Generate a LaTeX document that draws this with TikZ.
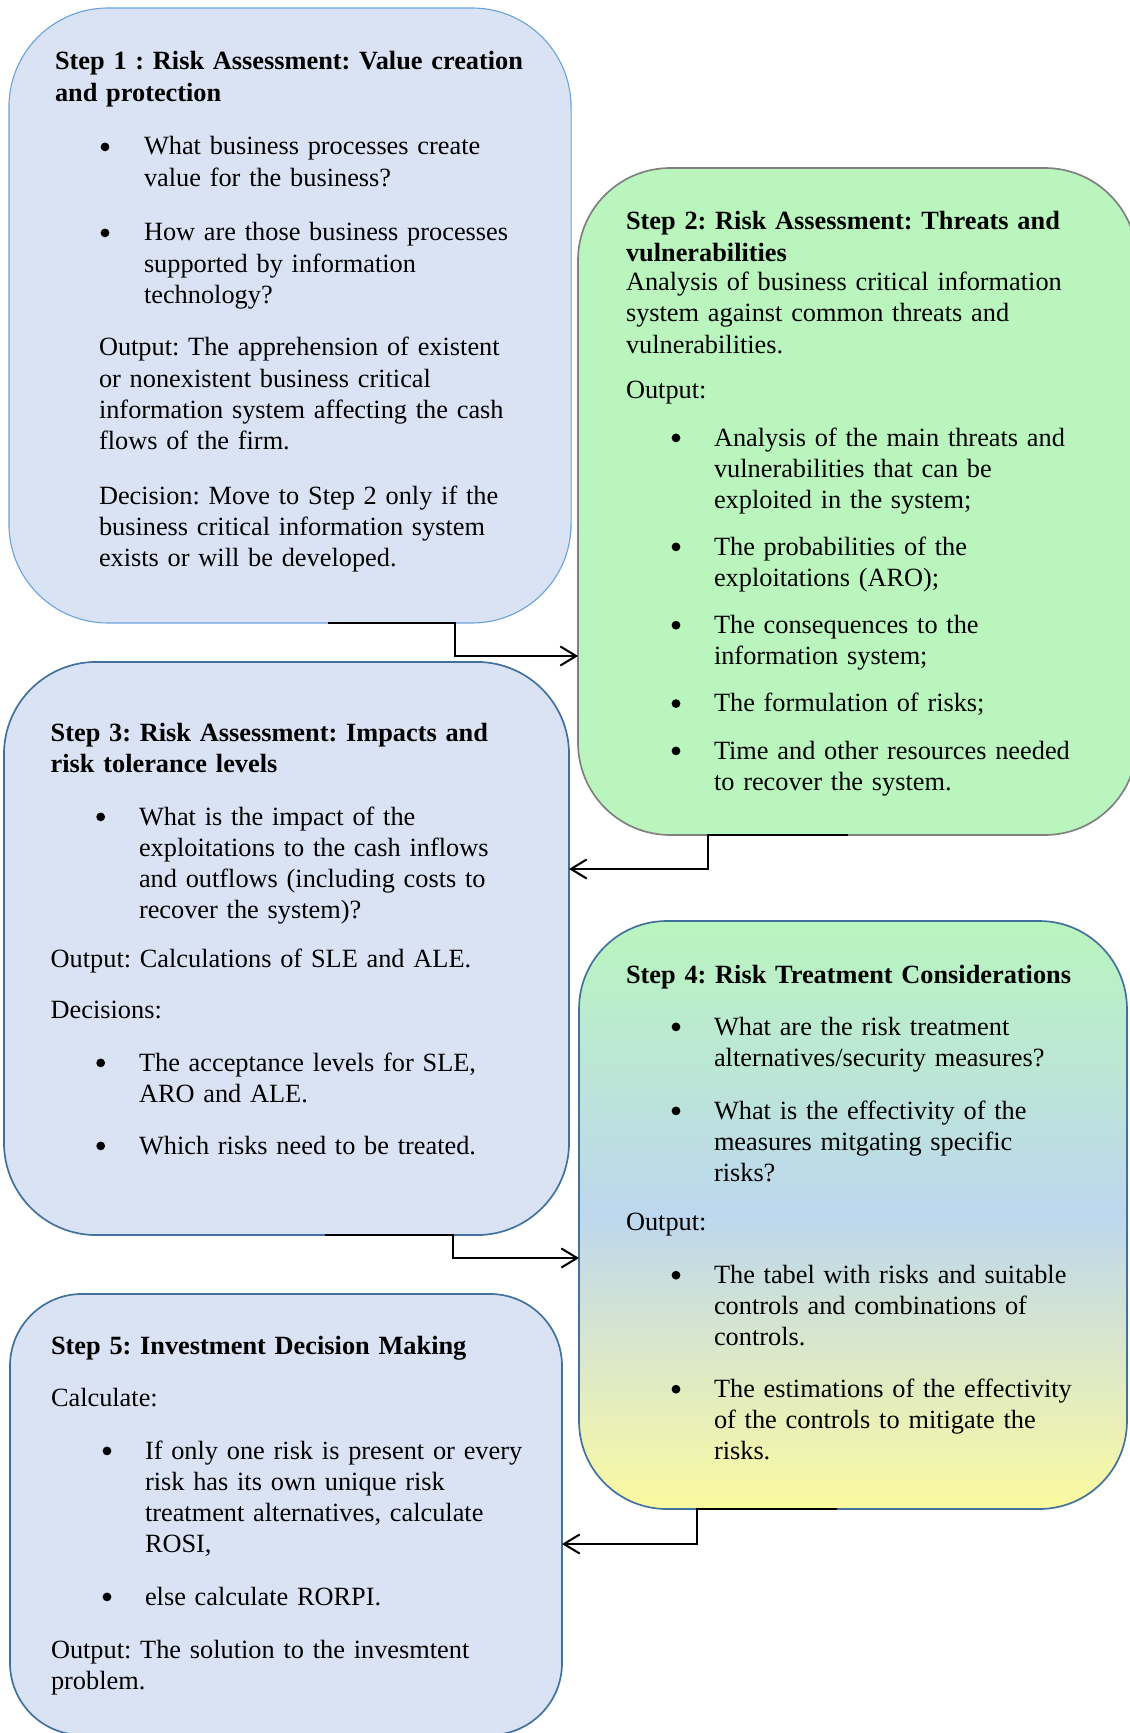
\documentclass[tikz,border=0pt]{standalone}
\usepackage{fontspec}
\setmainfont{Liberation Serif}
\usetikzlibrary{arrows.meta}
\definecolor{boxblue}{RGB}{218,227,243}
\definecolor{lineblue}{RGB}{108,163,220}
\definecolor{darkline}{RGB}{65,113,156}
\definecolor{boxgreen}{RGB}{186,245,190}
\definecolor{greyline}{RGB}{128,128,128}
\definecolor{midblue}{RGB}{189,215,238}
\definecolor{lightyellow}{RGB}{251,250,160}
\frenchspacing
\begin{document}
\begin{tikzpicture}[x=0.4444pt,y=-0.4444pt,
  stepbox/.style={rectangle, inner sep=0pt, outer sep=0pt},
  txt/.style={anchor=base west, inner sep=0pt, outer sep=0pt, text width=225pt, align=left, font=\fontsize{11.7pt}{13.85pt}\selectfont},
  hdr/.style={txt, font=\fontsize{11.7pt}{13.85pt}\selectfont\bfseries},
  bul/.style={circle, fill=black, inner sep=0pt, outer sep=0pt, minimum size=3.9pt, yshift=3.6pt},
  conn/.style={draw=black, line width=0.9pt, -{Straight Barb[length=7pt,width=8.5pt]}}
]
\useasboundingbox (0,0) rectangle (1130,1733);

% boxes
\node[stepbox, fill=boxblue, draw=lineblue, line width=0.5pt, rounded corners=44pt,
      minimum width=249.8pt, minimum height=273.3pt] (b1) at (290,315.5) {};
\node[stepbox, fill=boxgreen, draw=greyline, line width=0.75pt, rounded corners=41pt,
      minimum width=248.4pt, minimum height=296.4pt] (b2) at (857.5,501.5) {};
\node[stepbox, fill=boxblue, draw=darkline, line width=0.75pt, rounded corners=41pt,
      minimum width=251.1pt, minimum height=254.7pt] (b3) at (286.5,948.5) {};
\node[stepbox, top color=boxgreen, bottom color=lightyellow, middle color=midblue,
      draw=darkline, line width=0.75pt, rounded corners=39pt,
      minimum width=243.5pt, minimum height=261.3pt] (b4) at (853,1215) {};
\node[stepbox, fill=boxblue, draw=darkline, line width=0.75pt, rounded corners=32pt,
      minimum width=245.3pt, minimum height=196pt] (b5) at (286,1514.5) {};

% connectors
\coordinate (a1) at (328,623);
\coordinate (a2) at (455,656);
\draw[conn] (a1) -| (a2) -- (b2.west |- a2);
\coordinate (c1) at (848,835);
\coordinate (c2) at (708,869);
\draw[conn] (c1) -| (c2) -- (b3.east |- c2);
\coordinate (d1) at (325,1235);
\coordinate (d2) at (453,1258);
\draw[conn] (d1) -| (d2) -- (b4.west |- d2);
\coordinate (e1) at (837,1509);
\coordinate (e2) at (697,1544);
\draw[conn] (e1) -| (e2) -- (b5.east |- e2);

% Box 1 text
\node[hdr] (t1h) at (55,70) {Step 1 : Risk Assessment: Value creation\\and protection};
\node[bul] (t1b1) at (105,155) {};
\node[txt] (t1i1) at (144,155) {What business processes create\\value for the business?};
\node[bul] (t1b2) at (105,241) {};
\node[txt] (t1i2) at (144,241) {How are those business processes\\supported by information\\technology?};
\node[txt] (t1p1) at (99,356) {Output: The apprehension of existent\\or nonexistent business critical\\information system affecting the cash\\flows of the firm.};
\node[txt] (t1p2) at (99,504) {Decision: Move to Step 2 only if the\\business critical information system\\exists or will be developed.};

% Box 2 text
\node[hdr] (t2h) at (626,230) {Step 2: Risk Assessment: Threats and\\vulnerabilities};
\node[txt] (t2p1) at (626,290.7) {Analysis of business critical information\\system against common threats and\\vulnerabilities.};
\node[txt] (t2p2) at (626,398.3) {Output:};
\node[bul] (t2b1) at (676,446) {};
\node[txt] (t2i1) at (714,446) {Analysis of the main threats and\\vulnerabilities that can be\\exploited in the system;};
\node[bul] (t2b2) at (676,555) {};
\node[txt] (t2i2) at (714,555) {The probabilities of the\\exploitations (ARO);};
\node[bul] (t2b3) at (676,633.3) {};
\node[txt] (t2i3) at (714,633.3) {The consequences to the\\information system;};
\node[bul] (t2b4) at (676,711.7) {};
\node[txt] (t2i4) at (714,711.7) {The formulation of risks;};
\node[bul] (t2b5) at (676,759) {};
\node[txt] (t2i5) at (714,759) {Time and other resources needed\\to recover the system.};

% Box 3 text
\node[hdr] (t3h) at (50.7,741.7) {Step 3: Risk Assessment: Impacts and\\risk tolerance levels};
\node[bul] (t3b1) at (100.7,825) {};
\node[txt] (t3i1) at (139,825) {What is the impact of the\\exploitations to the cash inflows\\and outflows (including costs to\\recover the system)?};
\node[txt] (t3p1) at (50.7,967.7) {Output: Calculations of SLE and ALE.};
\node[txt] (t3p2) at (50.7,1018.3) {Decisions:};
\node[bul] (t3b2) at (100.7,1071) {};
\node[txt] (t3i2) at (139,1071) {The acceptance levels for SLE,\\ARO and ALE.};
\node[bul] (t3b3) at (100.7,1154) {};
\node[txt] (t3i3) at (139,1154) {Which risks need to be treated.};

% Box 4 text
\node[hdr] (t4h) at (626,983.3) {Step 4: Risk Treatment Considerations};
\node[bul] (t4b1) at (676,1035) {};
\node[txt] (t4i1) at (714,1035) {What are the risk treatment\\alternatives/security measures?};
\node[bul] (t4b2) at (676,1119) {};
\node[txt] (t4i2) at (714,1119) {What is the effectivity of the\\measures mitgating specific\\risks?};
\node[txt] (t4p1) at (626,1230.7) {Output:};
\node[bul] (t4b3) at (676,1283.3) {};
\node[txt] (t4i3) at (714,1283.3) {The tabel with risks and suitable\\controls and combinations of\\controls.};
\node[bul] (t4b4) at (676,1397.3) {};
\node[txt] (t4i4) at (714,1397.3) {The estimations of the effectivity\\of the controls to mitigate the\\risks.};

% Box 5 text
\node[hdr] (t5h) at (51,1354) {Step 5: Investment Decision Making};
\node[txt] (t5p1) at (51,1406) {Calculate:};
\node[bul] (t5b1) at (107,1459) {};
\node[txt] (t5i1) at (145,1459) {If only one risk is present or every\\risk has its own unique risk\\treatment alternatives, calculate\\ROSI,};
\node[bul] (t5b2) at (107,1605) {};
\node[txt] (t5i2) at (145,1605) {else calculate RORPI.};
\node[txt] (t5p2) at (51,1658.3) {Output: The solution to the invesmtent\\problem.};
\end{tikzpicture}
\end{document}
